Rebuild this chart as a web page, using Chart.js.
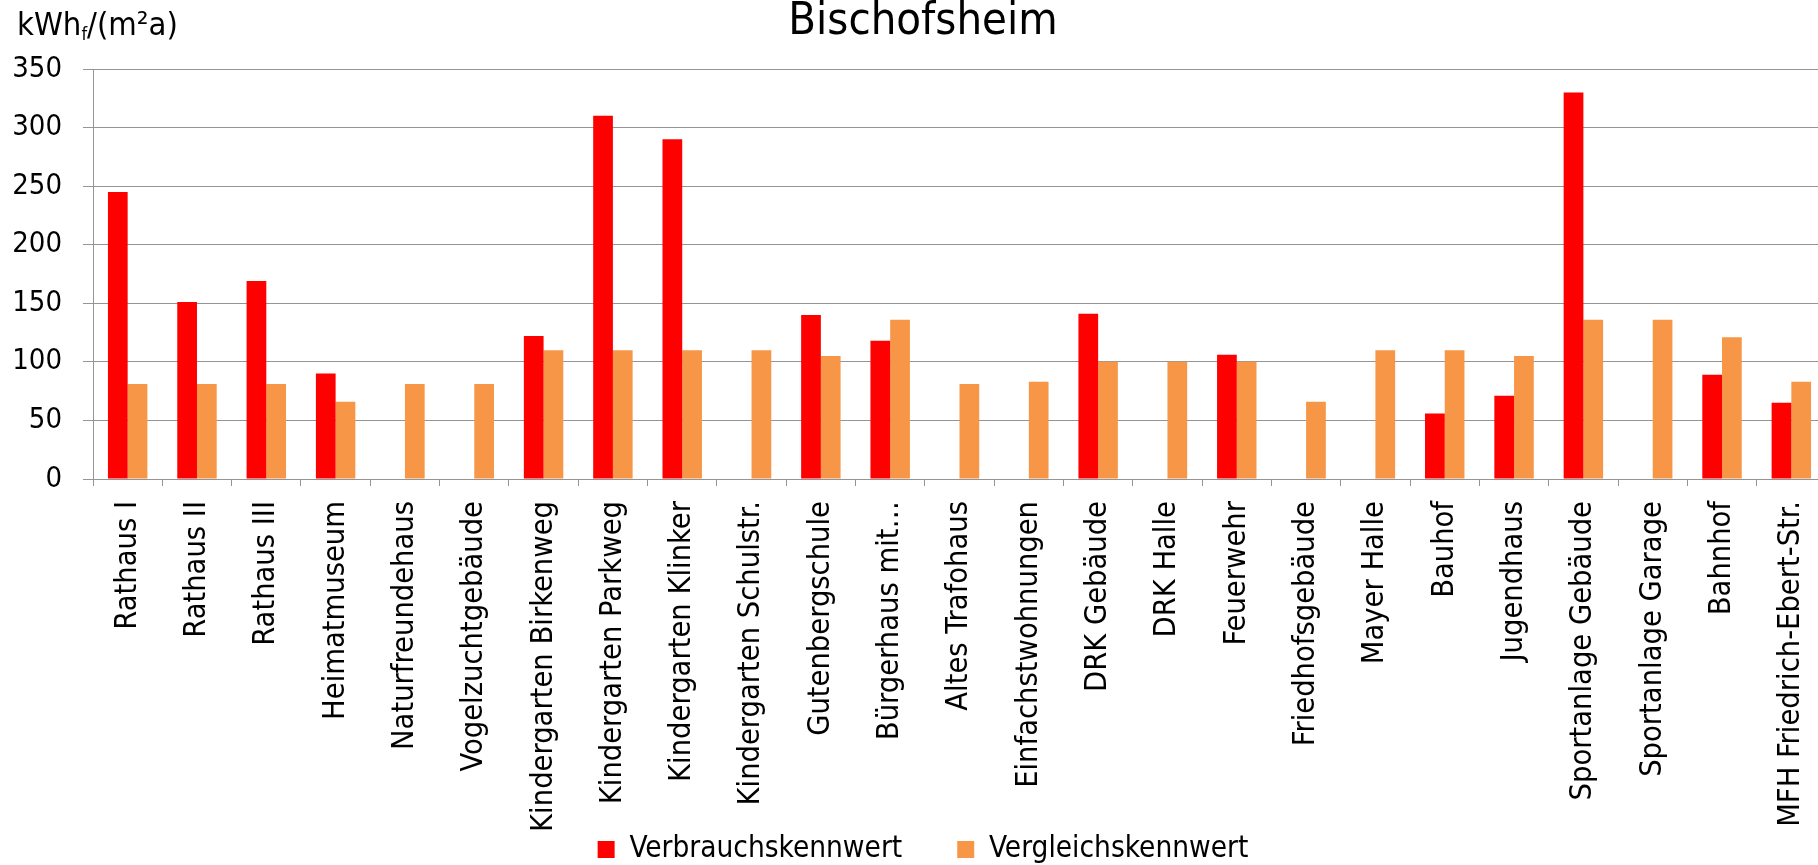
<!DOCTYPE html>
<html>
<head>
<meta charset="utf-8">
<script src="https://cdn.jsdelivr.net/npm/chart.js@4/dist/chart.umd.min.js"></script>
<style>
  html, body { margin: 0; padding: 0; background: #fff; overflow: hidden; }
  #outer { width: 1818px; height: 865px; overflow: hidden; position: relative; }
  #wrap { width: 1826px; height: 865px; position: relative; }
</style>
</head>
<body>
<div id="outer"><div id="wrap"><canvas id="c"></canvas></div></div>
<script>
const chartTitle = 'Bischofsheim';
const categories = [
  'Rathaus I', 'Rathaus II', 'Rathaus III', 'Heimatmuseum', 'Naturfreundehaus',
  'Vogelzuchtgebäude', 'Kindergarten Birkenweg', 'Kindergarten Parkweg', 'Kindergarten Klinker',
  'Kindergarten Schulstr.', 'Gutenbergschule', 'Bürgerhaus mit…', 'Altes Trafohaus',
  'Einfachstwohnungen', 'DRK Gebäude', 'DRK Halle', 'Feuerwehr', 'Friedhofsgebäude',
  'Mayer Halle', 'Bauhof', 'Jugendhaus', 'Sportanlage Gebäude', 'Sportanlage Garage',
  'Bahnhof', 'MFH Friedrich-Ebert-Str.'
];
const seriesNames = ['Verbrauchskennwert', 'Vergleichskennwert'];
const verbrauch = [245, 151, 169, 90, null, null, 122, 310, 290, null, 140, 118, null, null, 141, null, 106, null, null, 56, 71, 330, null, 89, 65];
const vergleich = [81, 81, 81, 66, 81, 81, 110, 110, 110, 110, 105, 136, 81, 83, 100, 100, 100, 66, 110, 110, 105, 136, 136, 121, 83];
const yMin = 0, yMax = 350, yStep = 50;

function hasFont(name) {
  const c = document.createElement('canvas').getContext('2d');
  const s = 'Kindergarten Birkenweg 350';
  c.font = '40px monospace';
  const a = c.measureText(s).width;
  c.font = "40px '" + name + "', monospace";
  const b = c.measureText(s).width;
  return Math.abs(a - b) > 0.5;
}
const COND = hasFont('DejaVu Sans Condensed');
const FONT = COND ? "'DejaVu Sans Condensed', 'DejaVu Sans', sans-serif" : "'DejaVu Sans', sans-serif";
const SZ = COND
  ? { x: 30.5, y: 29, legend: 29.5, title: 45, unit: 32.5, sub: 18 }
  : { x: 27.5, y: 26, legend: 26.5, title: 42, unit: 30, sub: 16 };
const GRID = '#959595';

const LEG_PAD = 55;
const LEG_H = SZ.legend + LEG_PAD + 10;
const LEG_CENTER = 849.5;
const LEG_TOP = LEG_CENTER - LEG_PAD - SZ.legend / 2;
const PAD_BOTTOM = 865 - (LEG_TOP + LEG_H);
const PLOT_BOTTOM = 479;

const unitLabel = {
  id: 'unitLabel',
  afterDraw(chart) {
    const ctx = chart.ctx;
    ctx.save();
    ctx.fillStyle = '#000';
    ctx.textBaseline = 'alphabetic';
    ctx.textAlign = 'left';
    let x = 17, y = 35;
    ctx.font = SZ.unit + 'px ' + FONT;
    ctx.fillText('kWh', x, y); x += ctx.measureText('kWh').width;
    ctx.font = SZ.sub + 'px ' + FONT;
    ctx.fillText('f', x, y + 5); x += ctx.measureText('f').width;
    ctx.font = SZ.unit + 'px ' + FONT;
    ctx.fillText('/(m²a)', x, y);
    ctx.restore();
  }
};

// allow axis labels to extend beyond their layout boxes (as in the original)
const noLabelClip = {
  id: 'noLabelClip',
  beforeDraw(chart) {
    Object.values(chart.scales).forEach(s => { s._computeLabelArea = () => undefined; });
  }
};

new Chart(document.getElementById('c'), {
  type: 'bar',
  data: {
    labels: categories,
    datasets: [
      { label: seriesNames[0], data: verbrauch, backgroundColor: '#FF0000', borderWidth: 0 },
      { label: seriesNames[1], data: vergleich, backgroundColor: '#F79646', borderWidth: 0 }
    ]
  },
  options: {
    responsive: true,
    maintainAspectRatio: false,
    devicePixelRatio: 1,
    animation: false,
    layout: { padding: { left: 20, right: 0, top: 0, bottom: PAD_BOTTOM } },
    datasets: { bar: { categoryPercentage: 0.569, barPercentage: 1.0 } },
    plugins: {
      title: {
        display: true, text: chartTitle, color: '#000',
        font: { family: FONT, size: SZ.title, weight: 'normal', lineHeight: 0.9 },
        padding: { top: 2, bottom: 69 - 2 - SZ.title * 0.9 }
      },
      legend: {
        position: 'bottom',
        labels: {
          color: '#000', boxWidth: 17, boxHeight: 17, padding: LEG_PAD,
          font: { family: FONT, size: SZ.legend }
        }
      },
      tooltip: { enabled: false }
    },
    scales: {
      x: {
        afterFit(scale) {
          scale.height = LEG_TOP - PLOT_BOTTOM;
          scale.paddingLeft = 0; scale.paddingRight = 0;
        },
        grid: { offset: true, drawOnChartArea: false, drawTicks: true, tickLength: 7, color: GRID },
        border: { display: true, color: GRID },
        ticks: {
          color: '#000', autoSkip: false, minRotation: 90, maxRotation: 90, padding: 15,
          font: { family: FONT, size: SZ.x }
        }
      },
      y: {
        min: yMin, max: yMax,
        afterFit(scale) {
          scale.width = 73;
          scale.paddingTop = 0; scale.paddingBottom = 0;
        },
        grid: { color: GRID, tickLength: 10, drawTicks: true },
        border: { display: true, color: GRID },
        ticks: {
          stepSize: yStep, color: '#000', padding: 21,
          font: { family: FONT, size: SZ.y }
        }
      }
    }
  },
  plugins: [unitLabel, noLabelClip]
});
</script>
</body>
</html>
